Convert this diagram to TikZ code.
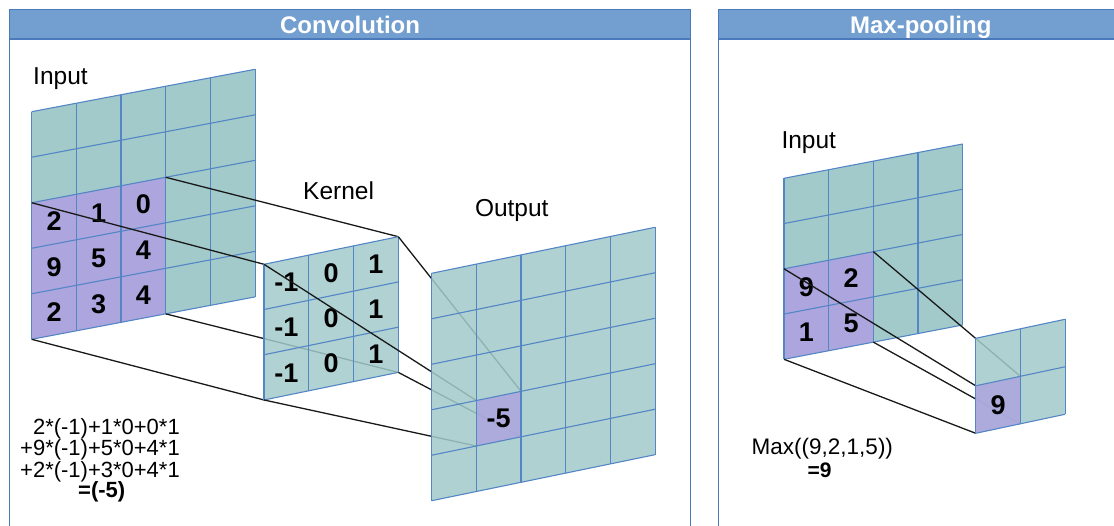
\documentclass[tikz,border=0pt]{standalone}
\usepackage{fontspec}
\setmainfont{Liberation Sans}
\definecolor{tealc}{RGB}{162,202,203}
\definecolor{purp}{RGB}{172,165,222}
\definecolor{gridc}{RGB}{84,134,197}
\definecolor{headc}{RGB}{114,159,207}
\definecolor{bordc}{RGB}{74,122,188}
\definecolor{linec}{RGB}{25,25,25}
\tikzset{
  gridln/.style={draw=gridc, line width=1.1pt},
  conn/.style={draw=linec, line width=1.3pt},
  lbl/.style={inner sep=0pt, anchor=base west, font=\fontsize{24.5}{29}\selectfont},
  num/.style={inner sep=0pt, font=\bfseries\fontsize{27}{32}\selectfont},
  form/.style={inner sep=0pt, anchor=base east, font=\fontsize{22}{26}\selectfont},
  head/.style={inner sep=0pt, anchor=base, text=white, font=\bfseries\fontsize{24}{28}\selectfont},
  panel/.style={draw=bordc, line width=1.3pt},
  inT/.style={shift={(31.7,111.7)}, x={(44.67pt,8.48pt)}, y={(0pt,-45.52pt)}},
  kerT/.style={shift={(264,264.3)}, x={(44.77pt,9.2pt)}, y={(0pt,-45.23pt)}},
  outT/.style={shift={(431.7,273.3)}, x={(44.67pt,9.2pt)}, y={(0pt,-45.48pt)}},
  minT/.style={shift={(784,178.3)}, x={(44.67pt,8.58pt)}, y={(0pt,-45.25pt)}},
  moutT/.style={shift={(975.7,338.3)}, x={(44.67pt,9.5pt)}, y={(0pt,-47.5pt)}},
}
\newcommand\planefill[3]{%
  \fill[tealc, fill opacity=#3] (0,0) -- (#1,0) -- (#1,#2) -- (0,#2) -- cycle;}
\newcommand\cellfill[3]{%
  \fill[purp, fill opacity=#3] (#1,#2) -- ++(1,0) -- ++(0,1) -- ++(-1,0) -- cycle;}
\newcommand\planegrid[2]{%
  \foreach \gi in {0,...,#1} {\draw[gridln] (\gi,0) -- (\gi,#2);}
  \foreach \gj in {0,...,#2} {\draw[gridln] (0,\gj) -- (#1,\gj);}}
\begin{document}
\begin{tikzpicture}[x=1pt,y=-1pt]
\useasboundingbox (0,0) rectangle (1114,526);
\clip (0,0) rectangle (1114,526);
% panels
\draw[panel] (9.3,540) -- (9.3,9.5) -- (690.7,9.5) -- (690.7,540);
\draw[panel, fill=headc] (9.3,9.5) rectangle (690.7,39);
\node[head] (convh) at (350,33.3) {Convolution};
\draw[panel] (718.3,540) -- (718.3,9.5) -- (1125,9.5);
\draw[panel, fill=headc] (718.3,9.5) rectangle (1125,39);
\node[head] (poolh) at (920.8,33.3) {Max-pooling};
% coordinates
\begin{scope}[inT]
  \coordinate (IA) at (0,2); \coordinate (IB) at (3,2);
  \coordinate (IC) at (0,5); \coordinate (ID) at (3,5);
\end{scope}
\begin{scope}[kerT]
  \coordinate (KA) at (0,0); \coordinate (KB) at (3,0);
  \coordinate (KC) at (0,3); \coordinate (KD) at (3,3);
\end{scope}
\begin{scope}[outT]
  \coordinate (OA) at (1,3); \coordinate (OB) at (2,3);
  \coordinate (OC) at (1,4); \coordinate (OD) at (2,4);
\end{scope}
\begin{scope}[minT]
  \coordinate (MA) at (0,2); \coordinate (MB) at (2,2);
  \coordinate (MC) at (0,4); \coordinate (MD) at (2,4);
\end{scope}
\begin{scope}[moutT]
  \coordinate (PA) at (0,1); \coordinate (PB) at (1,1);
  \coordinate (PC) at (0,2); \coordinate (PD) at (1,2);
\end{scope}
% labels
\node[lbl] (inlab) at (33,85) {Input};
\node[lbl] (kerlab) at (303,199.3) {Kernel};
\node[lbl] (outlab) at (474.8,216.7) {Output};
\node[lbl] (pinlab) at (781.3,148.3) {Input};
% convolution input
\begin{scope}[inT]
  \planefill{5}{5}{1}
  \foreach \gi in {0,1,2} {\foreach \gj in {2,3,4} {\cellfill{\gi}{\gj}{1}}}
  \planegrid{5}{5}
  \node[num] (i11) at (0.5,2.5) {2};
  \node[num] (i12) at (1.5,2.5) {1};
  \node[num] (i13) at (2.5,2.5) {0};
  \node[num] (i21) at (0.5,3.5) {9};
  \node[num] (i22) at (1.5,3.5) {5};
  \node[num] (i23) at (2.5,3.5) {4};
  \node[num] (i31) at (0.5,4.5) {2};
  \node[num] (i32) at (1.5,4.5) {3};
  \node[num] (i33) at (2.5,4.5) {4};
\end{scope}
\draw[conn] (IA) -- (KA);
\draw[conn] (IB) -- (KB);
\draw[conn] (IC) -- (KC);
\draw[conn] (ID) -- (KD);
% kernel
\begin{scope}[kerT]
  \planefill{3}{3}{0.85}
  \planegrid{3}{3}
  \foreach \gj in {0,1,2} {
    \node[num] (k\gj a) at (0.5,\gj+0.5) {-1};
    \node[num] (k\gj b) at (1.5,\gj+0.5) {0};
    \node[num] (k\gj c) at (2.5,\gj+0.5) {1};
  }
\end{scope}
\draw[conn] (KA) -- (OA);
\draw[conn] (KB) -- (OB);
\draw[conn] (KC) -- (OC);
\draw[conn] (KD) -- (OD);
% output
\begin{scope}[outT]
  \planefill{5}{5}{0.86}
  \cellfill{1}{3}{0.86}
  \planegrid{5}{5}
  \node[num] (o1) at (1.5,3.5) {-5};
\end{scope}
% formula
\node[form] (f1) at (180,435) {2*(-1)+1*0+0*1};
\node[form] (f2) at (180,456) {+9*(-1)+5*0+4*1};
\node[form] (f3) at (180,477) {+2*(-1)+3*0+4*1};
\node[form, anchor=base, font=\bfseries\fontsize{22}{26}\selectfont] (f4) at (101.7,497.5) {=(-5)};
% max pooling input
\begin{scope}[minT]
  \planefill{4}{4}{1}
  \foreach \gi in {0,1} {\foreach \gj in {2,3} {\cellfill{\gi}{\gj}{1}}}
  \planegrid{4}{4}
  \node[num] (m11) at (0.5,2.5) {9};
  \node[num] (m12) at (1.5,2.5) {2};
  \node[num] (m21) at (0.5,3.5) {1};
  \node[num] (m22) at (1.5,3.5) {5};
\end{scope}
\draw[conn] (MA) -- (PA);
\draw[conn] (MB) -- (PB);
\draw[conn] (MC) -- (PC);
\draw[conn] (MD) -- (PD);
\begin{scope}[moutT]
  \planefill{2}{2}{0.86}
  \cellfill{0}{1}{0.86}
  \planegrid{2}{2}
  \node[num] (p1) at (0.5,1.5) {9};
\end{scope}
\node[anchor=base west, inner sep=0pt, font=\fontsize{22.5}{27}\selectfont] (mx) at (751.5,454.3) {Max((9,2,1,5))};
\node[anchor=base west, inner sep=0pt, font=\bfseries\fontsize{21}{25}\selectfont] (mx2) at (807.5,477.3) {=9};
\end{tikzpicture}
\end{document}
